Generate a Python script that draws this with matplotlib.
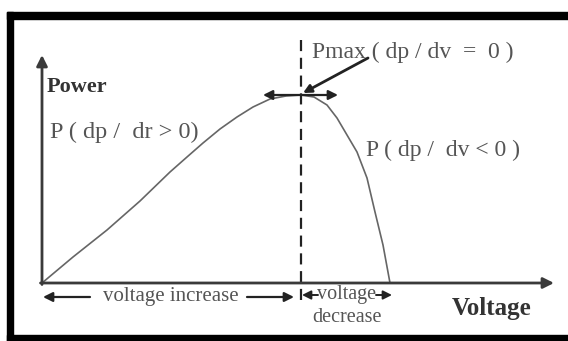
import numpy as np
import matplotlib
matplotlib.use("Agg")
import matplotlib.pyplot as plt
from matplotlib.patches import Rectangle

# P-V curve (arbitrary units)
voltage = [0, 3.1, 6.5, 9.8, 12.8, 14.5, 16.1, 17.8, 19.5, 21.1, 22.8, 24.4, 25.9,
           27.2, 28.5, 29.5, 30.5, 31.5, 32.5, 33.3, 34.1, 34.8]
power = [0, 2.6, 5.3, 8.2, 11.1, 12.6, 14.0, 15.4, 16.6, 17.6, 18.4, 18.7, 18.8,
         18.6, 17.8, 16.5, 14.8, 13.1, 10.5, 7.1, 3.8, 0]
v_mpp = 25.9
p_mpp = 18.8
v_axis_end = 51.2
p_axis_end = 22.8

serif = "Liberation Serif"
txt_col = "#555555"
dark = "#222222"

fig = plt.figure(figsize=(5.68, 3.41), dpi=100)
ax = fig.add_axes([0, 0, 1, 1])
ax.set_xlim(-4.2, 52.6)
ax.set_ylim(-5.8, 28.3)
ax.axis("off")

# black frame (top, left, bottom; right side cut off)
W, H = 568.0, 341.0
fig.patches.append(Rectangle((7 / W, 1 - 19 / H), 1, 7 / H, transform=fig.transFigure, color="black", zorder=5))
fig.patches.append(Rectangle((7 / W, 0), 6 / W, 1 - 12 / H, transform=fig.transFigure, color="black", zorder=5))
fig.patches.append(Rectangle((7 / W, 0), 1, 6 / H, transform=fig.transFigure, color="black", zorder=5))

# axes arrows
ax.annotate("", xy=(0, p_axis_end), xytext=(0, -0.15),
            arrowprops=dict(arrowstyle="-|>", color="#3a3a3a", lw=2, mutation_scale=16, shrinkA=0, shrinkB=0))
ax.annotate("", xy=(v_axis_end, 0), xytext=(-0.15, 0),
            arrowprops=dict(arrowstyle="-|>", color="#3a3a3a", lw=2, mutation_scale=16, shrinkA=0, shrinkB=0))

# curve
ax.plot(voltage, power, color="#666666", lw=1.2, solid_joinstyle="round")

# dashed MPP line
ax.plot([v_mpp, v_mpp], [24.3, -2.2], color=dark, lw=1.6, linestyle=(0, (5, 3)))

# double arrow at the peak
ax.annotate("", xy=(v_mpp - 3.8, p_mpp), xytext=(v_mpp + 3.7, p_mpp),
            arrowprops=dict(arrowstyle="<|-|>", color=dark, lw=1.6, mutation_scale=14, shrinkA=0, shrinkB=0))

# Pmax pointer
ax.annotate("", xy=(v_mpp + 0.2, p_mpp + 0.2), xytext=(32.6, 22.5),
            arrowprops=dict(arrowstyle="-|>", color=dark, lw=2, mutation_scale=12, shrinkA=0, shrinkB=0))

# texts
ax.text(0.5, 19.6, "Power", fontsize=16, fontweight="bold", family=serif, color="#333333", va="center", ha="left")
ax.text(0.8, 15.1, "P ( dp /  dr > 0)", fontsize=17.5, family=serif, color=txt_col, va="center", ha="left")
ax.text(27.0, 23.1, "Pmax ( dp / dv  =  0 )", fontsize=17, family=serif, color=txt_col, va="center", ha="left")
ax.text(32.4, 13.3, "P ( dp /  dv < 0 )", fontsize=17, family=serif, color=txt_col, va="center", ha="left")
ax.text(41.0, -2.5, "Voltage", fontsize=18, fontweight="bold", family=serif, color="#333333", va="center", ha="left")

# voltage increase
ax.text(12.9, -1.4, "voltage increase", fontsize=15, family=serif, color=txt_col, va="center", ha="center")
ax.annotate("", xy=(0.1, -1.4), xytext=(4.8, -1.4),
            arrowprops=dict(arrowstyle="-|>", color=dark, lw=1.6, mutation_scale=14, shrinkA=0, shrinkB=0))
ax.annotate("", xy=(25.2, -1.4), xytext=(20.5, -1.4),
            arrowprops=dict(arrowstyle="-|>", color=dark, lw=1.6, mutation_scale=14, shrinkA=0, shrinkB=0))

# voltage decrease
ax.text(30.5, -1.2, "voltage", fontsize=14.5, family=serif, color=txt_col, va="center", ha="center")
ax.text(30.5, -3.4, "decrease", fontsize=14.5, family=serif, color=txt_col, va="center", ha="center")
ax.annotate("", xy=(26.0, -1.2), xytext=(27.6, -1.2),
            arrowprops=dict(arrowstyle="-|>", color=dark, lw=1.4, mutation_scale=13, shrinkA=0, shrinkB=0))
ax.annotate("", xy=(35.0, -1.2), xytext=(33.4, -1.2),
            arrowprops=dict(arrowstyle="-|>", color=dark, lw=1.4, mutation_scale=13, shrinkA=0, shrinkB=0))

fig.savefig("out.png", dpi=100, facecolor="white")
